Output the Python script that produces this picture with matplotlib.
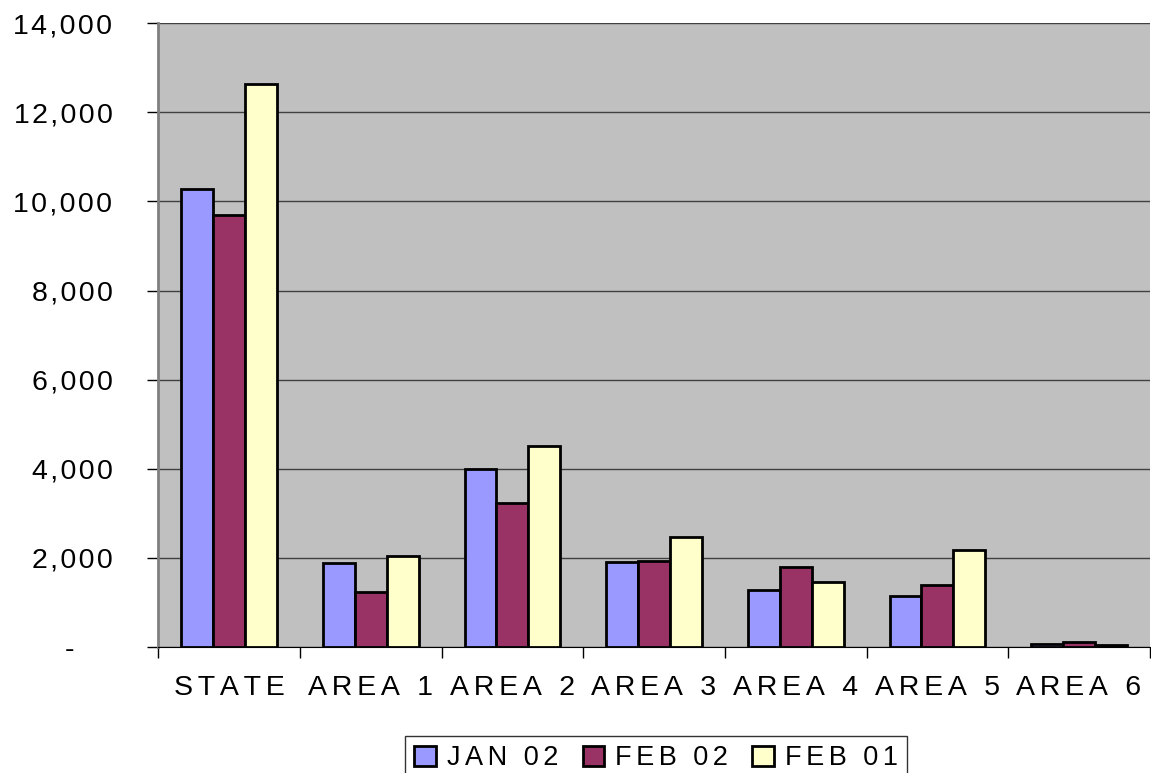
import numpy as np
import matplotlib
matplotlib.use("Agg")
from matplotlib import pyplot as plt
from matplotlib.ticker import FuncFormatter

plt.rcParams['font.family'] = ['Liberation Sans', 'DejaVu Sans']

# data
categories = ['STATE', 'AREA 1', 'AREA 2', 'AREA 3', 'AREA 4', 'AREA 5', 'AREA 6']
jan_02 = [10270, 1890, 3990, 1910, 1290, 1150, 60]
feb_02 = [9690, 1240, 3230, 1930, 1800, 1400, 120]
feb_01 = [12630, 2050, 4510, 2470, 1450, 2180, 50]
series_names = ['JAN 02', 'FEB 02', 'FEB 01']
series_colors = ['#9999FF', '#993366', '#FFFFCC']


def spaced(s, gap='\u2009'):
    # the original uses wide letter spacing
    return gap.join(s)


fig = plt.figure(figsize=(11.51, 7.73), dpi=100)
ax = fig.add_axes([0.1375, 0.163, 0.8615, 0.807])
ax.set_facecolor('#C0C0C0')

x = np.arange(len(categories))
w = 0.225
for i, (vals, name, col) in enumerate(zip([jan_02, feb_02, feb_01], series_names, series_colors)):
    ax.bar(x + (i - 1) * w, vals, w, color=col, edgecolor='black', linewidth=2,
           label=spaced(name, '\u2006'), zorder=3)

ax.set_xlim(-0.5, len(categories) - 0.5)
ax.set_ylim(0, 14000)
ax.set_yticks(np.arange(0, 14001, 2000))
zero_label = '-' + '\u2009\u2007\u2007'
ax.yaxis.set_major_formatter(FuncFormatter(
    lambda v, p: spaced('{:,.0f}'.format(v), '\u200a') if v else zero_label))
ax.yaxis.grid(True, color='#404040', linewidth=1, zorder=0)

# category labels centred, tick marks on the boundaries
ax.set_xticks(x)
ax.set_xticklabels([spaced(c, '\u200a\u200a') for c in categories])
ax.tick_params(axis='x', length=0, pad=20, labelsize=20.5)
ax.set_xticks(np.arange(-0.5, len(categories)), minor=True)
ax.tick_params(axis='x', which='minor', length=8, width=1, direction='out')
ax.tick_params(axis='y', length=8, width=1, direction='out', labelsize=20.5, pad=25)

for side in ['top', 'right']:
    ax.spines[side].set_visible(False)
ax.spines['left'].set_color('#808080')
ax.spines['left'].set_linewidth(2)
ax.spines['bottom'].set_color('black')

leg = fig.legend(loc='upper center', bbox_to_anchor=(0.570, 1 - 736 / 773), ncol=3, fontsize=19.5,
                 frameon=True, fancybox=False, edgecolor='black', handlelength=0.8,
                 handleheight=0.8, handletextpad=0.4, columnspacing=0.9, borderpad=0.35,
                 borderaxespad=0)
leg.get_frame().set_linewidth(1)

fig.savefig('out.png', dpi=100)
